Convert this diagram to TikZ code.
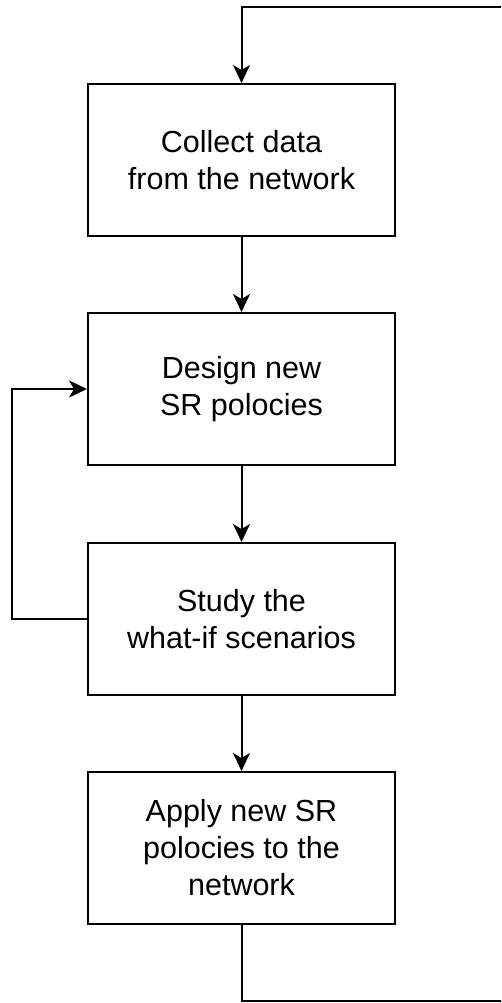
\documentclass[tikz,border=0pt]{standalone}
\usepackage{fontspec}
\setmainfont{Liberation Sans}
\usetikzlibrary{arrows.meta}
\begin{document}
\begin{tikzpicture}[x=1pt,y=-1pt,
  stepbox/.style={draw, line width=2pt, minimum width=307pt, minimum height=152pt,
    inner sep=0pt, align=center, font=\fontsize{30.5}{37}\selectfont},
  flow/.style={line width=2pt, -{Stealth[length=18pt,width=17pt,inset=5pt]}}]
\useasboundingbox (0,0) rectangle (501,1003);
\clip (0,0) rectangle (501,1003);

% process steps
\node[stepbox] (collect) at (241.5,160) {Collect data\\from the network};
\node[stepbox] (design)  at (241.5,389) {Design new\\SR polocies};
\node[stepbox] (study)   at (241.5,619) {Study the\\what-if scenarios};
\node[stepbox] (apply)   at (241.5,848) {Apply new SR\\polocies to the\\network};

% main flow
\draw[flow] (collect) -- (design);
\draw[flow] (design) -- (study);
\draw[flow] (study) -- (apply);

% inner loop back to design
\coordinate (lft) at (12,0);
\draw[flow] (study.west) -- (study.west -| lft) |- (design.west);

% outer loop back to the start
\coordinate (br) at (504,1001);
\coordinate (tr) at (504,7);
\draw[flow] (apply.south) |- (br) -- (tr) -| (collect.north);
\end{tikzpicture}
\end{document}
